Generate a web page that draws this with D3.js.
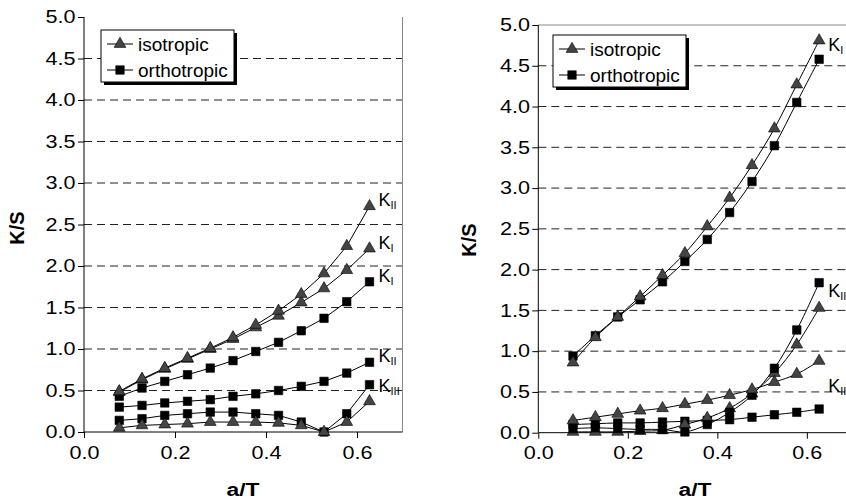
<!DOCTYPE html>
<html>
<head>
<meta charset="utf-8">
<script src="https://cdn.jsdelivr.net/npm/d3@7"></script>
<style>
  body { margin: 0; background: #fff; }
  svg { display: block; font-family: Arial, "Liberation Sans", sans-serif; }
</style>
</head>
<body>
<svg id="chart" width="846" height="502"></svg>
<script>
// crack length ratio a/T
var aT = [0.0775, 0.1275, 0.1775, 0.2275, 0.2775, 0.3275, 0.3775, 0.4275, 0.4775, 0.5275, 0.5775, 0.6275];
var yTicks = [0, 0.5, 1, 1.5, 2, 2.5, 3, 3.5, 4, 4.5, 5];
var xTicks = [0, 0.2, 0.4, 0.6];

// left panel
var leftIsoKII   = [0.49, 0.64, 0.77, 0.89, 1.01, 1.14, 1.29, 1.46, 1.66, 1.91, 2.24, 2.72];
var leftIsoKI    = [0.48, 0.63, 0.76, 0.88, 1.00, 1.12, 1.26, 1.40, 1.56, 1.73, 1.95, 2.21];
var leftIsoKIII  = [0.05, 0.08, 0.09, 0.10, 0.12, 0.12, 0.12, 0.11, 0.08, 0.00, 0.12, 0.37];
var leftOrtKI    = [0.43, 0.53, 0.61, 0.69, 0.77, 0.86, 0.97, 1.08, 1.22, 1.37, 1.57, 1.81];
var leftOrtKII   = [0.30, 0.32, 0.35, 0.37, 0.39, 0.43, 0.46, 0.50, 0.55, 0.61, 0.71, 0.84];
var leftOrtKIII  = [0.14, 0.16, 0.20, 0.22, 0.24, 0.24, 0.22, 0.20, 0.12, 0.00, 0.22, 0.57];

// right panel
var rightIsoKI   = [0.86, 1.17, 1.42, 1.67, 1.93, 2.20, 2.53, 2.88, 3.28, 3.73, 4.27, 4.81];
var rightIsoKII  = [0.01, 0.01, 0.01, 0.02, 0.03, 0.10, 0.18, 0.30, 0.48, 0.73, 1.08, 1.53];
var rightIsoKIII = [0.15, 0.19, 0.23, 0.27, 0.30, 0.35, 0.40, 0.46, 0.53, 0.62, 0.72, 0.88];
var rightOrtKI   = [0.94, 1.19, 1.42, 1.63, 1.85, 2.10, 2.37, 2.70, 3.08, 3.52, 4.05, 4.58];
var rightOrtKII  = [0.05, 0.06, 0.05, 0.04, 0.04, 0.01, 0.10, 0.25, 0.46, 0.79, 1.26, 1.84];
var rightOrtKIII = [0.10, 0.11, 0.12, 0.12, 0.13, 0.14, 0.15, 0.16, 0.19, 0.22, 0.25, 0.29];

var legendNames = ['isotropic', 'orthotropic'];

var svg = d3.select('#chart');

var triangle = d3.symbol(d3.symbolTriangle, 60)(),
    square = d3.symbol(d3.symbolSquare, 72)();

// the source picture is a bit stretched sideways
var stretch = 'scale(1.2,1)';

function panel(opt) {
  var
    x = d3.scaleLinear().domain([0, 0.7]).range([opt.x0, opt.x1]),
    y = d3.scaleLinear().domain([0, 5]).range([opt.y0, opt.y1]),
    g = svg.append('g'),
    line = d3.line().x((d, i) => x(aT[i])).y(d => y(d)).curve(opt.curve)
    ;

  // dashed grid
  g.selectAll('.grid')
    .data(yTicks.filter(v => v > 0 && v < 5))
    .enter().append('line')
    .attr('x1', x(0)).attr('x2', x(0.7))
    .attr('y1', d => y(d)).attr('y2', d => y(d))
    .attr('stroke', '#222').attr('stroke-width', 1)
    .attr('stroke-dasharray', '8,5');

  // frame
  if (opt.top) {
    g.append('line').attr('x1', x(0)).attr('x2', x(0.7))
      .attr('y1', y(5)).attr('y2', y(5)).attr('stroke', '#888');
  }
  g.append('line').attr('x1', x(0.7)).attr('x2', x(0.7))
    .attr('y1', y(5)).attr('y2', y(0)).attr('stroke', '#888');

  var yAxis = d3.axisLeft(y).tickValues(yTicks).tickFormat(d3.format('.1f')).tickSize(6).tickPadding(1);
  var xAxis = d3.axisBottom(x).tickValues(xTicks).tickFormat(d3.format('.1f')).tickSize(6).tickPadding(8);

  var ya = g.append('g').attr('transform', 'translate(' + x(0) + ',0)').call(yAxis);
  var xa = g.append('g').attr('transform', 'translate(0,' + y(0) + ')').call(xAxis);
  [ya, xa].forEach(a => {
    a.select('.domain').remove();
    a.selectAll('.tick line').attr('stroke', '#000');
    a.selectAll('.tick text').attr('fill', '#000').attr('font-size', '18px')
      .attr('font-family', 'Arial, "Liberation Sans", sans-serif')
      .attr('transform', stretch);
  });
  g.append('line').attr('x1', x(0)).attr('x2', x(0)).attr('y1', y(5)).attr('y2', y(0)).attr('stroke', '#000');
  g.append('line').attr('x1', x(0)).attr('x2', x(0.7)).attr('y1', y(0)).attr('y2', y(0)).attr('stroke', '#000');

  // axis titles
  g.append('text').text('a/T')
    .attr('transform', 'translate(' + opt.xTitle + ',496) ' + stretch)
    .attr('text-anchor', 'middle').attr('font-size', '19px').attr('font-weight', 'bold');
  g.append('text').text('K/S')
    .attr('transform', 'translate(' + opt.yTitle[0] + ',' + opt.yTitle[1] + ') rotate(-90)')
    .attr('text-anchor', 'middle').attr('font-size', '20px').attr('font-weight', 'bold');

  // series
  var clipId = 'clip' + Math.round(opt.x0);
  svg.append('clipPath').attr('id', clipId).append('rect')
    .attr('x', x(0)).attr('y', 0).attr('width', 846).attr('height', y(0) + 8);
  var plot = g.append('g').attr('clip-path', 'url(#' + clipId + ')');

  opt.series.forEach(s => {
    plot.append('path').datum(s.values)
      .attr('d', line).attr('fill', 'none').attr('stroke', '#000').attr('stroke-width', 1);
  });
  opt.series.forEach(s => {
    plot.selectAll(null).data(s.values).enter().append('path')
      .attr('transform', (d, i) => 'translate(' + x(aT[i]) + ',' + y(d) + ')')
      .attr('d', s.iso ? triangle : square)
      .attr('fill', s.iso ? '#444' : '#000')
      .attr('stroke', '#000').attr('stroke-width', 0.6);
  });

  // end labels
  opt.labels.forEach(l => {
    var t = g.append('text')
      .attr('x', x(aT[aT.length - 1]) + l.dx)
      .attr('y', y(l.v) + l.dy)
      .attr('font-size', '18px').attr('fill', '#000');
    t.append('tspan').text('K');
    t.append('tspan').text(l.sub).attr('font-size', '11px').attr('dy', 3);
  });

  // legend
  var lg = g.append('g').attr('transform', 'translate(' + opt.legend[0] + ',' + opt.legend[1] + ')');
  lg.append('rect').attr('x', 3).attr('y', 3).attr('width', 133).attr('height', 52).attr('fill', '#000');
  lg.append('rect').attr('x', 0).attr('y', 0).attr('width', 133).attr('height', 52)
    .attr('fill', '#fff').attr('stroke', '#000').attr('stroke-width', 1);
  legendNames.forEach((name, i) => {
    var ly = 14 + i * 26;
    lg.append('line').attr('x1', 6).attr('x2', 32).attr('y1', ly).attr('y2', ly).attr('stroke', '#000');
    lg.append('path').attr('transform', 'translate(19,' + ly + ')')
      .attr('d', i === 0 ? triangle : square)
      .attr('fill', i === 0 ? '#444' : '#000').attr('stroke', '#000').attr('stroke-width', 0.6);
    lg.append('text').text(name)
      .attr('x', 37).attr('y', ly + 7)
      .attr('font-size', '19px');
  });
}

panel({
  x0: 84, x1: 402.5, y0: 432, y1: 17,
  curve: d3.curveLinear, top: false,
  xTitle: 243, yTitle: [24, 228], legend: [101, 30],
  series: [
    {values: leftOrtKIII, iso: false}, {values: leftIsoKIII, iso: true},
    {values: leftOrtKII, iso: false}, {values: leftOrtKI, iso: false},
    {values: leftIsoKI, iso: true}, {values: leftIsoKII, iso: true}
  ],
  labels: [
    {v: leftIsoKII[11], sub: 'II', dx: 9, dy: 0},
    {v: leftIsoKI[11], sub: 'I', dx: 9, dy: 0},
    {v: leftOrtKI[11], sub: 'I', dx: 9, dy: 0},
    {v: leftOrtKII[11], sub: 'II', dx: 9, dy: 0},
    {v: leftOrtKIII[11], sub: 'III', dx: 9, dy: 7}
  ]
});

panel({
  x0: 538.3, x1: 851.6, y0: 432.7, y1: 25,
  curve: d3.curveCatmullRom.alpha(0.5), top: true,
  xTitle: 695, yTitle: [476, 240], legend: [553, 35],
  series: [
    {values: rightOrtKIII, iso: false}, {values: rightIsoKII, iso: true},
    {values: rightOrtKII, iso: false}, {values: rightIsoKIII, iso: true},
    {values: rightOrtKI, iso: false}, {values: rightIsoKI, iso: true}
  ],
  labels: [
    {v: rightIsoKI[11], sub: 'I', dx: 9, dy: 11},
    {v: rightOrtKII[11], sub: 'II', dx: 9, dy: 14},
    {v: 0.5, sub: 'III', dx: 9, dy: 0}
  ]
});
</script>
</body>
</html>
